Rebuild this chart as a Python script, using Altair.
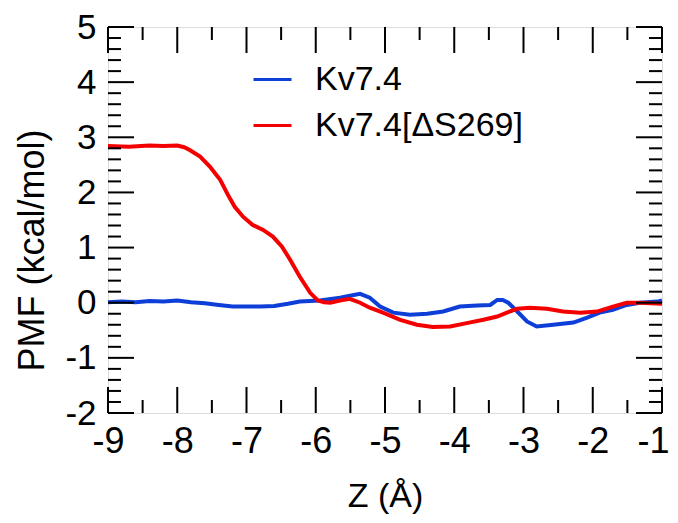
import altair as alt
import pandas as pd

# ---------------- data ----------------
series_names = ["Kv7.4", "Kv7.4[ΔS269]"]
series_colors = ["#0d3fd8", "#f50000"]

z_blue = [-9.0, -8.8, -8.6, -8.4, -8.2, -8.0, -7.8, -7.6, -7.4, -7.2, -7.0, -6.8,
          -6.6, -6.4, -6.23, -5.94, -5.65, -5.45, -5.36, -5.22, -5.07, -4.88, -4.64,
          -4.39, -4.16, -3.92, -3.67, -3.48, -3.38, -3.3, -3.22, -3.09, -2.95, -2.81,
          -2.57, -2.28, -2.08, -1.9, -1.71, -1.51, -1.32, -1.07, -1.0]
pmf_blue = [0.01, 0.02, 0.01, 0.03, 0.02, 0.04, 0.01, -0.01, -0.04, -0.07, -0.07, -0.07,
            -0.06, -0.02, 0.02, 0.04, 0.09, 0.14, 0.16, 0.09, -0.07, -0.18, -0.22,
            -0.20, -0.16, -0.07, -0.05, -0.04, 0.05, 0.05, 0.0, -0.16, -0.34, -0.43,
            -0.40, -0.36, -0.27, -0.18, -0.13, -0.04, 0.0, 0.02, 0.04]

z_red = [-9.0, -8.7, -8.4, -8.2, -8.0, -7.9, -7.82, -7.67, -7.53, -7.38, -7.27, -7.17,
         -7.05, -6.91, -6.76, -6.62, -6.49, -6.37, -6.23, -6.08, -5.97, -5.88, -5.79,
         -5.65, -5.51, -5.36, -5.22, -5.03, -4.78, -4.54, -4.31, -4.06, -3.82, -3.58,
         -3.38, -3.24, -3.09, -2.91, -2.66, -2.43, -2.18, -1.94, -1.71, -1.51, -1.32, -1.0]
pmf_red = [2.84, 2.83, 2.85, 2.84, 2.85, 2.82, 2.77, 2.65, 2.47, 2.23, 1.96, 1.74,
           1.56, 1.41, 1.32, 1.20, 1.02, 0.78, 0.47, 0.18, 0.04, 0.01, 0.0,
           0.04, 0.07, 0.0, -0.09, -0.18, -0.31, -0.40, -0.44, -0.43, -0.37, -0.31,
           -0.25, -0.18, -0.11, -0.09, -0.11, -0.16, -0.18, -0.16, -0.07, 0.0, 0.0, -0.02]

x_major = [-9, -8, -7, -6, -5, -4, -3, -2, -1]
x_minor = [-8.5, -7.5, -6.5, -5.5, -4.5, -3.5, -2.5, -1.5]
y_major = [-2, -1, 0, 1, 2, 3, 4, 5]
y_minor = [v / 10 for v in range(-20, 51, 2) if v % 10 != 0]

# ---------------- tables ----------------
df = pd.concat([
    pd.DataFrame({"z": z_blue, "pmf": pmf_blue, "series": series_names[0]}),
    pd.DataFrame({"z": z_red, "pmf": pmf_red, "series": series_names[1]}),
])
xmaj = pd.DataFrame({"z": x_major})
xmin = pd.DataFrame({"z": x_minor})
ymaj = pd.DataFrame({"pmf": y_major})
ymin = pd.DataFrame({"pmf": y_minor})

W, H = 554, 386
MAJ, MIN = 26, 13
FONT = "Liberation Sans"

x_scale = alt.Scale(domain=[-9, -1], nice=False, zero=False)
y_scale = alt.Scale(domain=[-2, 5], nice=False, zero=False)

x_axis = alt.Axis(
    values=x_major, ticks=False, domain=False, grid=False,
    labelFontSize=36, labelFont=FONT, labelColor="black", labelPadding=11,
    labelFlush=False, labelOverlap=False, labelExpr="toString(datum.value)",
    labelOffset={"condition": {"test": "datum.value == -1", "value": -9}, "value": 0},
    titleFontSize=34, titleFont=FONT, titleFontWeight="normal",
    titleColor="black", titleX=277, titleY=93, titleBaseline="alphabetic",
    titleAlign="center")
y_axis = alt.Axis(
    values=y_major, ticks=False, domain=False, grid=False,
    labelFontSize=35, labelFont=FONT, labelColor="black", labelPadding=12,
    labelFlush=False, labelOverlap=False, labelExpr="toString(datum.value)",
    titleFontSize=36, titleFont=FONT,
    titleFontWeight="normal", titleColor="black", titleX=-76, titleY=223,
    titleAngle=270, titleAlign="center", titleBaseline="middle")

X = alt.X("z:Q", scale=x_scale, axis=x_axis, title="Z (Å)")
Y = alt.Y("pmf:Q", scale=y_scale, axis=y_axis, title="PMF (kcal/mol)")

lines = alt.Chart(df).mark_line(strokeWidth=4).encode(
    x=X, y=Y,
    color=alt.Color("series:N", sort=series_names,
                    scale=alt.Scale(domain=series_names, range=series_colors),
                    legend=alt.Legend(orient="none", legendX=144, legendY=32, title=None,
                                      symbolType="stroke", symbolSize=1444,
                                      symbolStrokeWidth=3, labelFontSize=34,
                                      labelFont=FONT, labelColor="black", labelLimit=500,
                                      labelOffset=22, rowPadding=8)),
)

def xticks(data, y0, y1):
    return alt.Chart(data).mark_rule(color="black", strokeWidth=2).encode(
        x=X, y=alt.value(y0), y2=alt.value(y1))

def yticks(data, x0, x1):
    return alt.Chart(data).mark_rule(color="black", strokeWidth=2).encode(
        y=Y, x=alt.value(x0), x2=alt.value(x1))

chart = alt.layer(
    lines,
    xticks(xmaj, H, H - MAJ), xticks(xmaj, 0, MAJ),
    xticks(xmin, H, H - MIN), xticks(xmin, 0, MIN),
    yticks(ymaj, 0, MAJ), yticks(ymaj, W, W - MAJ),
    yticks(ymin, 0, MIN), yticks(ymin, W, W - MIN),
).properties(
    width=W, height=H,
    autosize=alt.AutoSizeParams(type="none"),
    padding={"left": 100, "top": 19, "right": 8, "bottom": 101},
).configure_view(stroke="black", strokeWidth=2).configure(background="white")

chart.save("out.html", embed_options={"renderer": "svg", "actions": False})
